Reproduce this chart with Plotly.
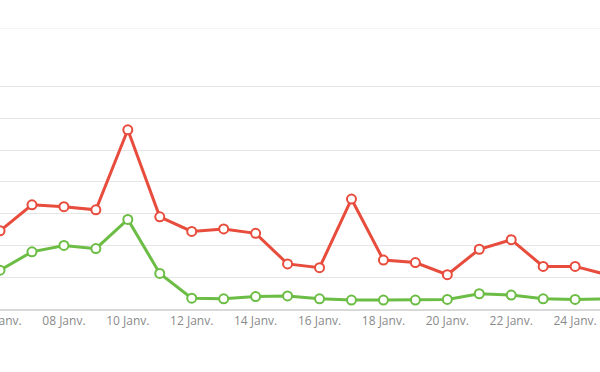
import plotly.graph_objects as go
import pandas as pd

dates = pd.date_range("2024-01-06", "2024-01-25", freq="D")
red_values = [123, 164, 161, 156, 282, 145, 122, 126, 119, 71, 65, 173, 77, 73, 54, 94, 109, 67, 67, 54]
green_values = [61, 90, 100, 95, 141, 56, 17, 16, 19.5, 20.5, 16, 14, 14, 14, 15, 24, 22, 16, 15, 16]
grid_values = [0, 50, 100, 150, 200, 250, 300, 350]

fig = go.Figure()
for vals, color in [(green_values, "#6cbd45"), (red_values, "#e74c3c")]:
    fig.add_trace(go.Scatter(
        x=dates, y=vals, mode="lines+markers",
        line=dict(color=color, width=3),
        marker=dict(size=9, color="white", line=dict(color=color, width=2)),
        showlegend=False, hoverinfo="skip",
    ))

x0 = pd.Timestamp("2024-01-06") - pd.Timedelta(minutes=1)
x1 = x0 + pd.Timedelta(days=600 / 31.95)

top, bottom = 23.4, 372 - 308.7
fig.update_layout(
    width=600, height=372,
    margin=dict(l=0, r=0, t=top, b=bottom, autoexpand=False),
    paper_bgcolor="white", plot_bgcolor="white",
    font=dict(family="Open Sans", color="#888888", size=12),
    xaxis=dict(
        range=[x0, x1], type="date", dtick=2 * 86400000,
        tick0="2024-01-06", tickformat="%d Janv.",
        showgrid=False, showline=True, linecolor="#d9d9d9", linewidth=2,
        ticks="", ticklabeloverflow="allow", zeroline=False, automargin=False,
        tickfont=dict(size=12, color="#8a8a8a"),
    ),
    yaxis=dict(
        range=[0, 450], tickmode="array", tickvals=grid_values, showticklabels=False,
        showgrid=True, gridcolor="#e6e6e6", gridwidth=1, zeroline=False, automargin=False,
    ),
    shapes=[dict(type="line", xref="paper", yref="paper", x0=0, x1=1,
                 y0=1 - (29 - top) / (372 - top - bottom),
                 y1=1 - (29 - top) / (372 - top - bottom),
                 line=dict(color="#f3f3f3", width=1), layer="below")],
)

fig.write_html(
    "out.html",
    config={"displayModeBar": False},
    post_script="document.body.style.margin='0';document.body.style.overflow='hidden';",
)
